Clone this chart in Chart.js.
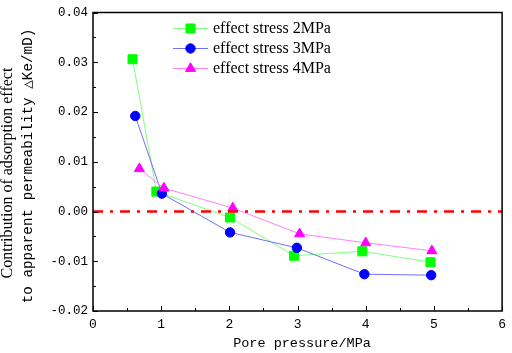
<!DOCTYPE html>
<html>
<head>
<meta charset="utf-8">
<script src="https://cdn.jsdelivr.net/npm/chart.js@4"></script>
<style>
html,body{margin:0;padding:0;background:#fff;}
#wrap{width:512px;height:353px;}
</style>
</head>
<body>
<div id="wrap"><canvas id="c" width="512" height="353"></canvas></div>
<script>
const seriesNames = ["effect stress 2MPa", "effect stress 3MPa", "effect stress 4MPa"];
const x2MPa = [0.58, 0.93, 2.01, 2.95, 3.95, 4.95];
const y2MPa = [0.0306, 0.0040, -0.0012, -0.0089, -0.0080, -0.0102];
const x3MPa = [0.62, 1.01, 2.01, 2.99, 3.98, 4.96];
const y3MPa = [0.0192, 0.0036, -0.0042, -0.0073, -0.0126, -0.0128];
const x4MPa = [0.68, 1.04, 2.05, 3.03, 4.00, 4.97];
const y4MPa = [0.0086, 0.0047, 0.0007, -0.0045, -0.0063, -0.0079];
const refX = [0, 6];
const refY = [0, 0];
const xTitle = "Pore pressure/MPa";
const yTitle1 = "Contribution of adsorption effect";
const yTitle2 = "to apparent permeability \u25B3Ke/mD)";

const pts = (xs, ys) => xs.map((x, i) => ({x: x, y: ys[i]}));
const MONO = "'Liberation Mono', monospace";
const SERIF = "'Liberation Serif', serif";

const datasets = [
  {label: seriesNames[0], data: pts(x2MPa, y2MPa), borderColor: '#80ff80', backgroundColor: '#00ff00',
   pointBorderColor: '#00ff00', pointStyle: 'rect', pointRadius: 6.4, borderWidth: 1, order: 3},
  {label: seriesNames[1], data: pts(x3MPa, y3MPa), borderColor: '#7070ff', backgroundColor: '#0000ff',
   pointBorderColor: '#0000ff', pointStyle: 'circle', pointRadius: 4.7, borderWidth: 1, order: 2},
  {label: seriesNames[2], data: pts(x4MPa, y4MPa), borderColor: '#ff80ff', backgroundColor: '#ff00ff',
   pointBorderColor: '#ff00ff', pointStyle: 'triangle', pointRadius: 5.8, borderWidth: 1, order: 1},
  {label: 'ref', data: pts(refX, refY), borderColor: '#ff0000', borderWidth: 2.5, borderDash: [10, 7, 3, 7],
   pointRadius: 0, order: 0}
];

const decor = {
  id: 'decor',
  afterDraw(chart) {
    const ctx = chart.ctx, a = chart.chartArea;
    const xs = chart.scales.x, ys = chart.scales.y;
    ctx.save();
    // ticks (inward)
    ctx.strokeStyle = '#000'; ctx.lineWidth = 1;
    for (let v = 0; v <= 6.0001; v += 0.5) {
      const px = Math.round(xs.getPixelForValue(v)) + 0.5;
      const len = (Math.abs(v - Math.round(v)) < 1e-6) ? 5 : 3;
      ctx.beginPath(); ctx.moveTo(px, a.bottom); ctx.lineTo(px, a.bottom - len); ctx.stroke();
    }
    for (let k = -4; k <= 8; k++) {
      const v = k * 0.005;
      const py = Math.round(ys.getPixelForValue(v)) + 0.5;
      const len = (k % 2 === 0) ? 5 : 3;
      ctx.beginPath(); ctx.moveTo(a.left, py); ctx.lineTo(a.left + len, py); ctx.stroke();
    }
    // frame
    ctx.lineWidth = 1.5;
    ctx.strokeRect(a.left, a.top, a.right - a.left, a.bottom - a.top);
    // legend
    const rows = [28, 48, 68];
    ctx.font = "16px " + SERIF;
    ctx.textBaseline = 'middle';
    ctx.textAlign = 'left';
    for (let i = 0; i < 3; i++) {
      const ds = datasets[i], y = rows[i];
      ctx.strokeStyle = ds.borderColor; ctx.lineWidth = 1;
      ctx.beginPath(); ctx.moveTo(173, y + 0.5); ctx.lineTo(208, y + 0.5); ctx.stroke();
      ctx.fillStyle = ds.backgroundColor; ctx.strokeStyle = ds.pointBorderColor;
      Chart.helpers.drawPoint(ctx, {pointStyle: ds.pointStyle, radius: ds.pointRadius, borderWidth: 1}, 190.5, y + 0.5);
      ctx.fillStyle = '#000';
      ctx.fillText(ds.label, 213, y + 1);
    }
    // axis titles
    ctx.fillStyle = '#000';
    ctx.textAlign = 'center';
    ctx.font = "13.5px " + MONO;
    ctx.fillText(xTitle, 302, 343);
    ctx.save();
    ctx.translate(0, 170);
    ctx.rotate(-Math.PI / 2);
    ctx.font = "16px " + SERIF;
    ctx.fillText(yTitle1, -3, 8);
    ctx.font = "14.3px " + MONO;
    ctx.fillText(yTitle2, 4, 28);
    ctx.restore();
    ctx.restore();
  }
};

new Chart(document.getElementById('c'), {
  type: 'line',
  data: {datasets: datasets},
  options: {
    responsive: false,
    animation: false,
    layout: {padding: {top: 4, right: 3, left: 0, bottom: 0}},
    plugins: {legend: {display: false}, tooltip: {enabled: false}},
    scales: {
      x: {
        type: 'linear', min: 0, max: 6,
        grid: {display: false, drawTicks: false},
        border: {display: false},
        ticks: {stepSize: 1, padding: 6, color: '#000', font: {family: MONO, size: 13}},
        afterFit: s => { s.height = 42; }
      },
      y: {
        type: 'linear', min: -0.02, max: 0.04,
        grid: {display: false, drawTicks: false},
        border: {display: false},
        ticks: {stepSize: 0.01, padding: 5, color: '#000', font: {family: MONO, size: 12.5},
                callback: v => Number(v).toFixed(2)},
        afterFit: s => { s.width = 93; }
      }
    }
  },
  plugins: [decor]
});
</script>
</body>
</html>
